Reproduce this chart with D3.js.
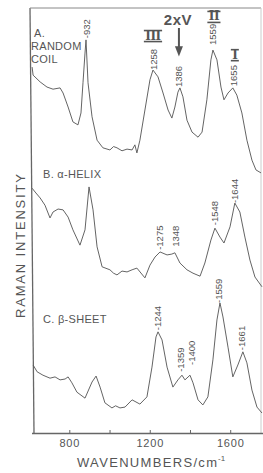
<!DOCTYPE html>
<html>
<head>
<meta charset="utf-8">
<script src="https://cdn.jsdelivr.net/npm/d3@7"></script>
<style>
  body { margin: 0; background: #fff; }
  text { font-family: "Liberation Sans", Arial, sans-serif; fill: #555; }
</style>
</head>
<body>
<div id="chart"></div>
<script>
// Size of the SVG Container
const width = 263;
const height = 473;

// Spectra: [wavenumber (cm-1), Raman intensity (a.u., stacked)]
const randomCoil = [
  [615, 86.1], [620, 84.2], [655, 82.6], [689, 81.4], [719, 80.9], [754, 81.2],
  [769, 80.0], [794, 76.7], [818, 73.2], [843, 72.5], [858, 75.3], [868, 82.4],
  [878, 89.4], [883, 92.5], [893, 82.4], [913, 74.4], [938, 68.9], [967, 67.1],
  [1002, 66.6], [1020, 67.4], [1037, 67.1], [1062, 66.4], [1087, 66.8], [1112, 66.6],
  [1126, 67.8], [1136, 65.9], [1151, 68.9], [1176, 76.0], [1201, 83.1], [1216, 85.4],
  [1241, 83.8], [1266, 80.0], [1291, 76.0], [1310, 74.1], [1325, 76.7], [1340, 80.2],
  [1350, 81.2], [1365, 79.1], [1385, 73.6], [1410, 70.8], [1440, 69.6], [1460, 70.8],
  [1484, 78.4], [1504, 87.8], [1514, 90.1], [1534, 87.8], [1554, 81.4], [1569, 78.4],
  [1589, 80.0], [1613, 81.2], [1633, 79.5], [1658, 75.3], [1683, 68.9], [1708, 64.2],
  [1728, 61.9], [1753, 61.2]
];

const alphaHelix = [
  [615, 57.6], [630, 56.7], [655, 55.3], [679, 53.6], [704, 50.6], [719, 52.0],
  [744, 52.7], [769, 52.5], [794, 50.8], [818, 47.8], [853, 44.2], [878, 47.8],
  [898, 57.9], [918, 52.5], [938, 43.8], [963, 39.1], [1002, 38.4], [1020, 37.6],
  [1037, 37.2], [1062, 38.1], [1087, 37.9], [1112, 38.4], [1136, 38.8], [1176, 36.5],
  [1201, 39.5], [1226, 41.4], [1251, 42.6], [1286, 41.9], [1310, 42.1], [1325, 42.4],
  [1350, 40.0], [1385, 38.4], [1415, 37.6], [1450, 36.9], [1474, 40.0], [1504, 45.4],
  [1524, 48.2], [1549, 46.1], [1569, 44.7], [1599, 48.5], [1623, 54.1], [1648, 52.0],
  [1673, 46.1], [1698, 40.7], [1723, 36.7], [1758, 34.4]
];

const betaSheet = [
  [620, 16.0], [640, 14.4], [669, 13.6], [704, 12.9], [729, 13.2], [754, 12.5],
  [779, 12.7], [794, 13.2], [813, 11.8], [838, 9.6], [878, 8.2], [913, 12.0],
  [933, 13.4], [953, 10.8], [977, 7.1], [1012, 5.9], [1030, 6.4], [1052, 5.9],
  [1077, 6.1], [1112, 7.8], [1151, 6.8], [1186, 8.5], [1211, 15.5], [1231, 22.6],
  [1241, 23.8], [1261, 21.9], [1286, 15.5], [1315, 10.8], [1340, 12.5], [1360, 13.6],
  [1375, 12.5], [1400, 13.6], [1415, 11.8], [1440, 7.8], [1464, 6.6], [1489, 8.5],
  [1514, 17.2], [1534, 26.6], [1549, 30.6], [1564, 27.3], [1589, 20.2], [1613, 13.2],
  [1638, 16.0], [1663, 19.1], [1683, 16.5], [1708, 10.1], [1733, 6.1], [1758, 4.7]
];

// Peak labels: [text, wavenumber, intensity at the foot of the label]
const peakLabels = [
  ["-932", 888, 92.9], ["1258", 1221, 85.4], ["1386", 1350, 81.4],
  ["1559", 1519, 91.3], ["1655", 1623, 81.6],
  ["-1275", 1251, 43.1], ["1348", 1335, 43.8], ["-1548", 1529, 48.9], ["-1644", 1628, 54.1],
  ["-1244", 1241, 24.2], ["-1359", 1360, 14.4], ["-1400", 1410, 16.0],
  ["-1559", 1549, 30.6], ["-1661", 1663, 19.5]
];

// Amide band markers: [numeral, wavenumber, intensity]
const amideBands = [["III", 1216, 93.4], ["II", 1519, 97.9], ["I", 1623, 88.9]];

const xTicks = [800, 1000, 1200, 1400, 1600];

// Create the SVG Container
const svg = d3.select("#chart")
  .append("svg")
  .attr("width", width)
  .attr("height", height);

// X and Y Scales
const xScale = d3.scaleLinear().domain([612, 1763]).range([31.5, 263]);
const yScale = d3.scaleLinear().domain([0, 100]).range([433, 8]);

// Frame (scan is slightly tilted)
svg.append("line").attr("x1", 30).attr("y1", 8).attr("x2", 34).attr("y2", 433)
  .attr("stroke", "#666").attr("stroke-width", 1.3);
svg.append("line").attr("x1", 30).attr("y1", 8).attr("x2", 261).attr("y2", 8)
  .attr("stroke", "#888").attr("stroke-width", 1);
svg.append("line").attr("x1", 261).attr("y1", 8).attr("x2", 261).attr("y2", 433)
  .attr("stroke", "#ccc").attr("stroke-width", 1);

// Bottom Axis
const xAxis = svg.append("g")
  .attr("transform", "translate(0,433)")
  .call(d3.axisBottom(xScale)
    .tickValues(xTicks)
    .tickSize(-3)
    .tickSizeOuter(0)
    .tickPadding(6)
    .tickFormat(d => d % 400 === 0 ? d : ""));
xAxis.select(".domain").attr("stroke", "#666").attr("stroke-width", 1.3);
xAxis.selectAll(".tick line").attr("stroke", "#666");
xAxis.selectAll(".tick text")
  .style("font-size", "11px")
  .style("letter-spacing", "0.8px")
  .attr("fill", "#555");

// Axis Titles
svg.append("text")
  .attr("x", 77).attr("y", 467)
  .attr("textLength", 140)
  .style("font-size", "13px")
  .text("WAVENUMBERS/cm");
svg.append("text")
  .attr("x", 218).attr("y", 461)
  .style("font-size", "8px")
  .text("-1");

svg.append("text")
  .attr("transform", "translate(25,318) rotate(-90)")
  .attr("textLength", 144)
  .style("font-size", "13px")
  .text("RAMAN INTENSITY");

// Spectra
const line = d3.line()
  .x(d => xScale(d[0]))
  .y(d => yScale(d[1]));

[randomCoil, alphaHelix, betaSheet].forEach(series => {
  svg.append("path")
    .datum(series)
    .attr("d", line)
    .attr("fill", "none")
    .attr("stroke", "#5c5c5c")
    .attr("stroke-width", 0.95)
    .attr("stroke-linejoin", "round");
});

// Panel Labels
const panelText = svg.append("g").style("font-size", "11px").style("letter-spacing", "0.3px");
panelText.append("text").attr("x", 34).attr("y", 37).text("A.");
panelText.append("text").attr("x", 31).attr("y", 50).text("RANDOM");
panelText.append("text").attr("x", 31).attr("y", 63).text("COIL");
panelText.append("text").attr("x", 43).attr("y", 178).text("B. α-HELIX");
panelText.append("text").attr("x", 43).attr("y", 323).text("C. β-SHEET");

// Peak Labels (rotated)
svg.selectAll(".peak")
  .data(peakLabels)
  .enter()
  .append("text")
  .attr("class", "peak")
  .attr("transform", d => "translate(" + xScale(d[1]) + "," + yScale(d[2]) + ") rotate(-90)")
  .attr("dominant-baseline", "middle")
  .style("font-size", "9.5px")
  .text(d => d[0]);

// Amide Band Numerals with bars
amideBands.forEach(b => {
  const t = svg.append("text")
    .attr("x", xScale(b[1]))
    .attr("y", yScale(b[2]))
    .attr("text-anchor", "middle")
    .attr("dominant-baseline", "middle")
    .style("font-family", "'DejaVu Serif', serif")
    .style("font-weight", "bold")
    .style("font-size", "12px")
    .style("letter-spacing", "-0.5px")
    .text(b[0]);
  const bb = t.node().getBBox();
  const x0 = xScale(b[1]) - bb.width / 2 - 1, x1 = xScale(b[1]) + bb.width / 2 + 1;
  const yc = yScale(b[2]);
  [yc - 5.5, yc + 5.5].forEach(yy => {
    svg.append("line").attr("x1", x0).attr("x2", x1).attr("y1", yy).attr("y2", yy)
      .attr("stroke", "#555").attr("stroke-width", 1.6);
  });
});

// 2xV Arrow
svg.append("text")
  .attr("x", xScale(1340)).attr("y", yScale(96))
  .attr("text-anchor", "middle")
  .style("font-size", "15px")
  .style("font-weight", "bold")
  .style("letter-spacing", "0.5px")
  .text("2xV");
const ax = xScale(1345);
svg.append("line")
  .attr("x1", ax).attr("x2", ax)
  .attr("y1", yScale(95.3)).attr("y2", yScale(90.5))
  .attr("stroke", "#555").attr("stroke-width", 2);
svg.append("path")
  .attr("d", "M" + (ax - 4) + "," + yScale(91) + "L" + (ax + 4) + "," + yScale(91) + "L" + ax + "," + yScale(88.6) + "Z")
  .attr("fill", "#555");
</script>
</body>
</html>
